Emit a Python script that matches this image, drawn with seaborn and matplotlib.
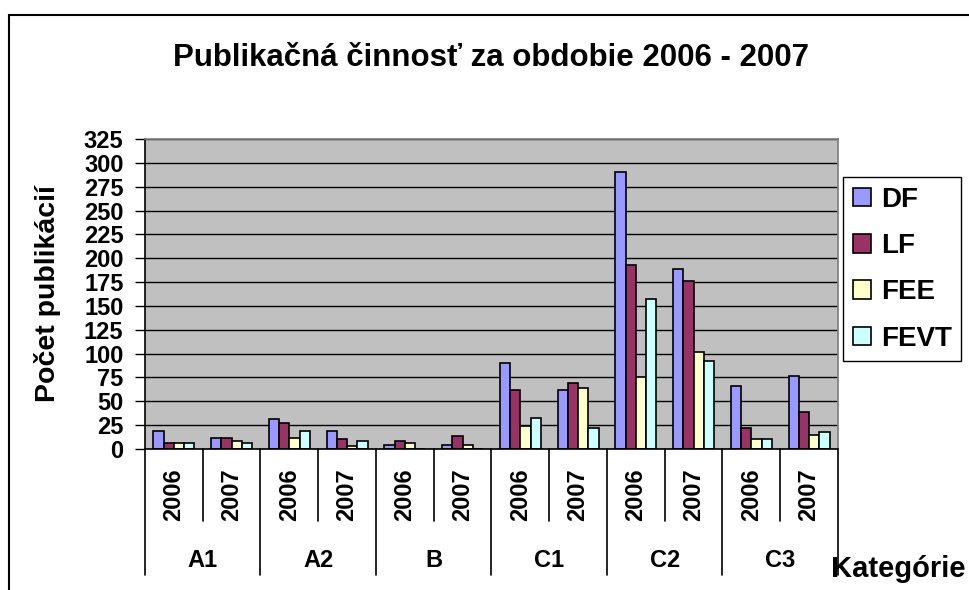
import numpy as np
import pandas as pd
import seaborn as sns
import matplotlib.pyplot as plt
import matplotlib.transforms as mtransforms
from matplotlib.patches import Patch, Rectangle

categories = ["A1", "A2", "B", "C1", "C2", "C3"]
years = ["2006", "2007"]
faculties = ["DF", "LF", "FEE", "FEVT"]

# one value per (category, year) slot, in the order A1-2006, A1-2007, A2-2006, ...
df_counts = [19, 12, 31, 19, 4, 4, 90, 62, 290, 189, 66, 77]
lf_counts = [6, 12, 27, 10, 8, 14, 62, 69, 193, 176, 22, 39]
fee_counts = [6, 8, 12, 3, 6, 4, 24, 64, 75, 102, 10, 15]
fevt_counts = [6, 6, 19, 8, 0, 0, 33, 22, 157, 92, 10, 18]

colors = ["#9999FF", "#993366", "#FFFFCC", "#CCFFFF"]

slots = [f"{c} {y}" for c in categories for y in years]
rows = []
for fac, vals in zip(faculties, [df_counts, lf_counts, fee_counts, fevt_counts]):
    for s, v in zip(slots, vals):
        rows.append({"slot": s, "faculty": fac, "count": v})
data = pd.DataFrame(rows)

sns.set_theme(style="white")
plt.rcParams["font.family"] = ["Liberation Sans", "DejaVu Sans"]
plt.rcParams["font.weight"] = "bold"
plt.rcParams["text.color"] = "black"
plt.rcParams["axes.labelcolor"] = "black"
plt.rcParams["ytick.color"] = "black"
plt.rcParams["xtick.color"] = "black"

fig = plt.figure(figsize=(9.7, 5.9), dpi=100)
ax = fig.add_axes([145 / 970, 1 - 449 / 590, 693 / 970, 310 / 590])
ax.set_facecolor("#C0C0C0")

sns.barplot(data=data, x="slot", y="count", hue="faculty", order=slots,
            hue_order=faculties, palette=colors, width=0.71,
            edgecolor="black", linewidth=1.2, saturation=1, ax=ax, legend=False)

ax.set_ylim(0, 325)
ax.set_xlim(-0.5, len(slots) - 0.5)
ax.set_yticks(np.arange(0, 326, 25))
ax.yaxis.grid(True, color="black", linewidth=1.0)
ax.set_axisbelow(True)
ax.tick_params(axis="y", direction="out", length=7, width=1, pad=8.5,
               labelsize=17, left=True, color="black", labelcolor="black")
for lbl in ax.get_yticklabels():
    lbl.set_fontweight("bold")
ax.tick_params(axis="x", bottom=False, labelbottom=False)
ax.set_xlabel("")
ax.set_ylabel("")

ax.spines["left"].set_color("black")
ax.spines["bottom"].set_color("black")
ax.spines["left"].set_linewidth(1.2)
ax.spines["bottom"].set_linewidth(1.2)
ax.spines["top"].set_color("#808080")
ax.spines["right"].set_color("#808080")

# multi-level category axis below the plot
trans = mtransforms.blended_transform_factory(ax.transData, ax.transAxes)
for i in range(len(slots) + 1):
    low = -0.406 if i % 2 == 0 else -0.232
    ax.plot([i - 0.5, i - 0.5], [0, low], transform=trans, color="black",
            linewidth=1.2, clip_on=False)
for i, s in enumerate(slots):
    ax.text(i, -0.148, s.split()[1], transform=trans, rotation=90,
            ha="center", va="center", fontsize=17, fontweight="bold",
            color="black")
for j, c in enumerate(categories):
    ax.text(2 * j + 0.5, -0.381, c, transform=trans, ha="center",
            va="baseline", fontsize=17, fontweight="bold", color="black")

fig.text(491 / 970, 1 - 66 / 590, "Publikačná činnosť za obdobie 2006 - 2007",
         ha="center", va="baseline", fontsize=22.5, fontweight="bold",
         color="black")
fig.text(48 / 970, 1 - 293 / 590, "Počet publikácií", rotation=90,
         ha="center", va="center", fontsize=20.5, fontweight="bold",
         color="black")
fig.text(831 / 970, 1 - 577 / 590, "Kategórie", ha="left", va="baseline",
         fontsize=21, fontweight="bold", color="black")

handles = [Patch(facecolor=c, edgecolor="black", linewidth=1.2) for c in colors]
leg = ax.legend(handles, faculties, loc="upper left",
                bbox_to_anchor=(843 / 970, 1 - 177 / 590),
                bbox_transform=fig.transFigure, borderaxespad=0,
                fontsize=20, frameon=True, fancybox=False, framealpha=1,
                edgecolor="black", handlelength=0.65, handleheight=0.65,
                handletextpad=0.36, labelspacing=0.73, borderpad=0.35)
leg.get_frame().set_linewidth(1.0)
for t in leg.get_texts():
    t.set_fontweight("bold")
    t.set_color("black")

# chart-area border (top and left visible, rest cut off)
fig.add_artist(Rectangle((9 / 970, -0.05), 1.1, 1 - 15 / 590 + 0.05,
                         transform=fig.transFigure, fill=False,
                         edgecolor="black", linewidth=1.5))

fig.savefig("out.png", dpi=100)
